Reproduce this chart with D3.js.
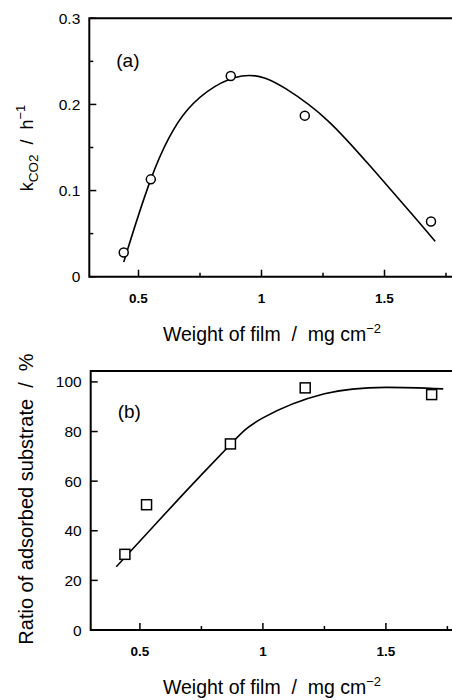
<!DOCTYPE html>
<html>
<head>
<meta charset="utf-8">
<script src="https://cdn.jsdelivr.net/npm/d3@7/dist/d3.min.js"></script>
<style>
  html, body { margin: 0; padding: 0; background: #fff; }
  svg { display: block; font-family: "Liberation Sans", Arial, Helvetica, sans-serif; }
</style>
</head>
<body>
<svg id="chart" width="452" height="700"></svg>
<script>
// (a) rate constant of CO2 formation vs. film weight
const filmA = [0.44, 0.55, 0.875, 1.176, 1.689];
const kCO2 = [0.028, 0.113, 0.233, 0.187, 0.064];
// fitted trend for (a)
const fitAx = [0.44, 0.55, 0.70, 0.92, 1.10, 1.27, 1.44, 1.62, 1.706];
const fitAy = [0.017, 0.113, 0.194, 0.233, 0.218, 0.181, 0.129, 0.070, 0.041];

// (b) ratio of adsorbed substrate vs. film weight
const filmB = [0.439, 0.527, 0.868, 1.172, 1.686];
const adsorbed = [30.5, 50.5, 75.0, 97.6, 94.9];
// fitted trend for (b)
const fitBx = [0.404, 0.55, 0.70, 0.87, 1.0, 1.25, 1.5, 1.733];
const fitBy = [25.5, 41.2, 57.3, 75.0, 85.5, 95.2, 97.8, 97.2];

// axis ticks
const xTicks = [0.5, 0.75, 1, 1.25, 1.5, 1.75];
const xLabels = ["0.5", "1", "1.5"];
const yTicksA = [0, 0.05, 0.1, 0.15, 0.2, 0.25, 0.3];
const yLabelsA = ["0", "0.1", "0.2", "0.3"];
const yTicksB = [0, 20, 40, 60, 80, 100];
const yLabelsB = ["0", "20", "40", "60", "80", "100"];

const svg = d3.select("#chart");

function panel(opt) {
  const g = svg.append("g");
  const x = d3.scaleLinear().domain([0.3, 1.8]).range([opt.left, opt.left + 1.5 * 246]);
  const y = d3.scaleLinear().domain(opt.yDomain).range([opt.bottom, opt.top]);
  const right = 460;

  // frame: left, top and bottom lines
  g.append("path")
    .attr("d", `M${right},${y(opt.yDomain[1])}H${x(0.3)}V${y(0)}H${right}`)
    .attr("fill", "none").attr("stroke", "#000").attr("stroke-width", 2);

  // x ticks, pointing inward
  g.selectAll(".xt").data(xTicks).join("line")
    .attr("x1", d => x(d)).attr("x2", d => x(d))
    .attr("y1", y(0)).attr("y2", (d, i) => y(0) - (i % 2 === 0 ? 7 : 4))
    .attr("stroke", "#000").attr("stroke-width", 1.5);
  g.selectAll(".xl").data(xLabels).join("text")
    .attr("x", d => x(+d)).attr("y", y(0) + 26)
    .attr("text-anchor", "middle").attr("font-size", 13.5).attr("font-weight", "bold")
    .text(d => d);

  // y ticks, pointing inward
  g.selectAll(".yt").data(opt.yTicks).join("line")
    .attr("x1", x(0.3)).attr("x2", d => x(0.3) + (opt.yLabels.includes(String(d)) ? 7 : 4))
    .attr("y1", d => y(d)).attr("y2", d => y(d))
    .attr("stroke", "#000").attr("stroke-width", 1.5);
  g.selectAll(".yl").data(opt.yLabels).join("text")
    .attr("x", x(0.3) - 9).attr("y", d => y(+d) + 5.5)
    .attr("text-anchor", "end").attr("font-size", 15.5)
    .text(d => d);

  // x axis title
  const xt = g.append("text")
    .attr("x", 272).attr("y", y(0) + 64)
    .attr("text-anchor", "middle").attr("font-size", 19.5)
    .attr("xml:space", "preserve");
  xt.append("tspan").text("Weight of film  /  mg cm");
  xt.append("tspan").attr("dy", -8).attr("font-size", 13).text("\u22122");

  // panel letter
  g.append("text").attr("x", opt.left + 27).attr("y", opt.letterY)
    .attr("font-size", 19).text(opt.letter);

  // fitted curve
  const line = d3.line().x(d => x(d[0])).y(d => y(d[1])).curve(d3.curveNatural);
  g.append("path").datum(opt.fitX.map((v, i) => [v, opt.fitY[i]]))
    .attr("d", line).attr("fill", "none").attr("stroke", "#000").attr("stroke-width", 1.6);

  return { g, x, y };
}

// ---- panel (a)
const a = panel({
  left: 89.3, top: 18.3, bottom: 276.7, yDomain: [0, 0.3],
  yTicks: yTicksA, yLabels: yLabelsA, letter: "(a)", letterY: 67,
  fitX: fitAx, fitY: fitAy
});
a.g.selectAll(".pt").data(filmA).join("circle")
  .attr("cx", d => a.x(d)).attr("cy", (d, i) => a.y(kCO2[i])).attr("r", 4.5)
  .attr("fill", "#fff").attr("stroke", "#000").attr("stroke-width", 1.5);

// y title (a): k_CO2 / h^-1
const ta = svg.append("text")
  .attr("transform", "translate(33,148) rotate(-90)")
  .attr("text-anchor", "middle").attr("font-size", 18)
  .attr("xml:space", "preserve");
ta.append("tspan").text("k");
ta.append("tspan").attr("dy", 5).attr("font-size", 13.5).text("CO2");
ta.append("tspan").attr("dy", -5).text("  /  h");
ta.append("tspan").attr("dy", -8).attr("font-size", 13).text("\u22121");

// ---- panel (b)
const b = panel({
  left: 90.7, top: 371, bottom: 630, yDomain: [0, 104.4],
  yTicks: yTicksB, yLabels: yLabelsB, letter: "(b)", letterY: 418,
  fitX: fitBx, fitY: fitBy
});
b.g.selectAll(".sq").data(filmB).join("rect")
  .attr("x", d => b.x(d) - 5).attr("y", (d, i) => b.y(adsorbed[i]) - 5)
  .attr("width", 10).attr("height", 10)
  .attr("fill", "#fff").attr("stroke", "#000").attr("stroke-width", 1.5);

// y title (b)
svg.append("text")
  .attr("transform", "translate(33,499) rotate(-90)")
  .attr("text-anchor", "middle").attr("font-size", 20)
  .attr("xml:space", "preserve")
  .text("Ratio of adsorbed substrate  /  %");
</script>
</body>
</html>
